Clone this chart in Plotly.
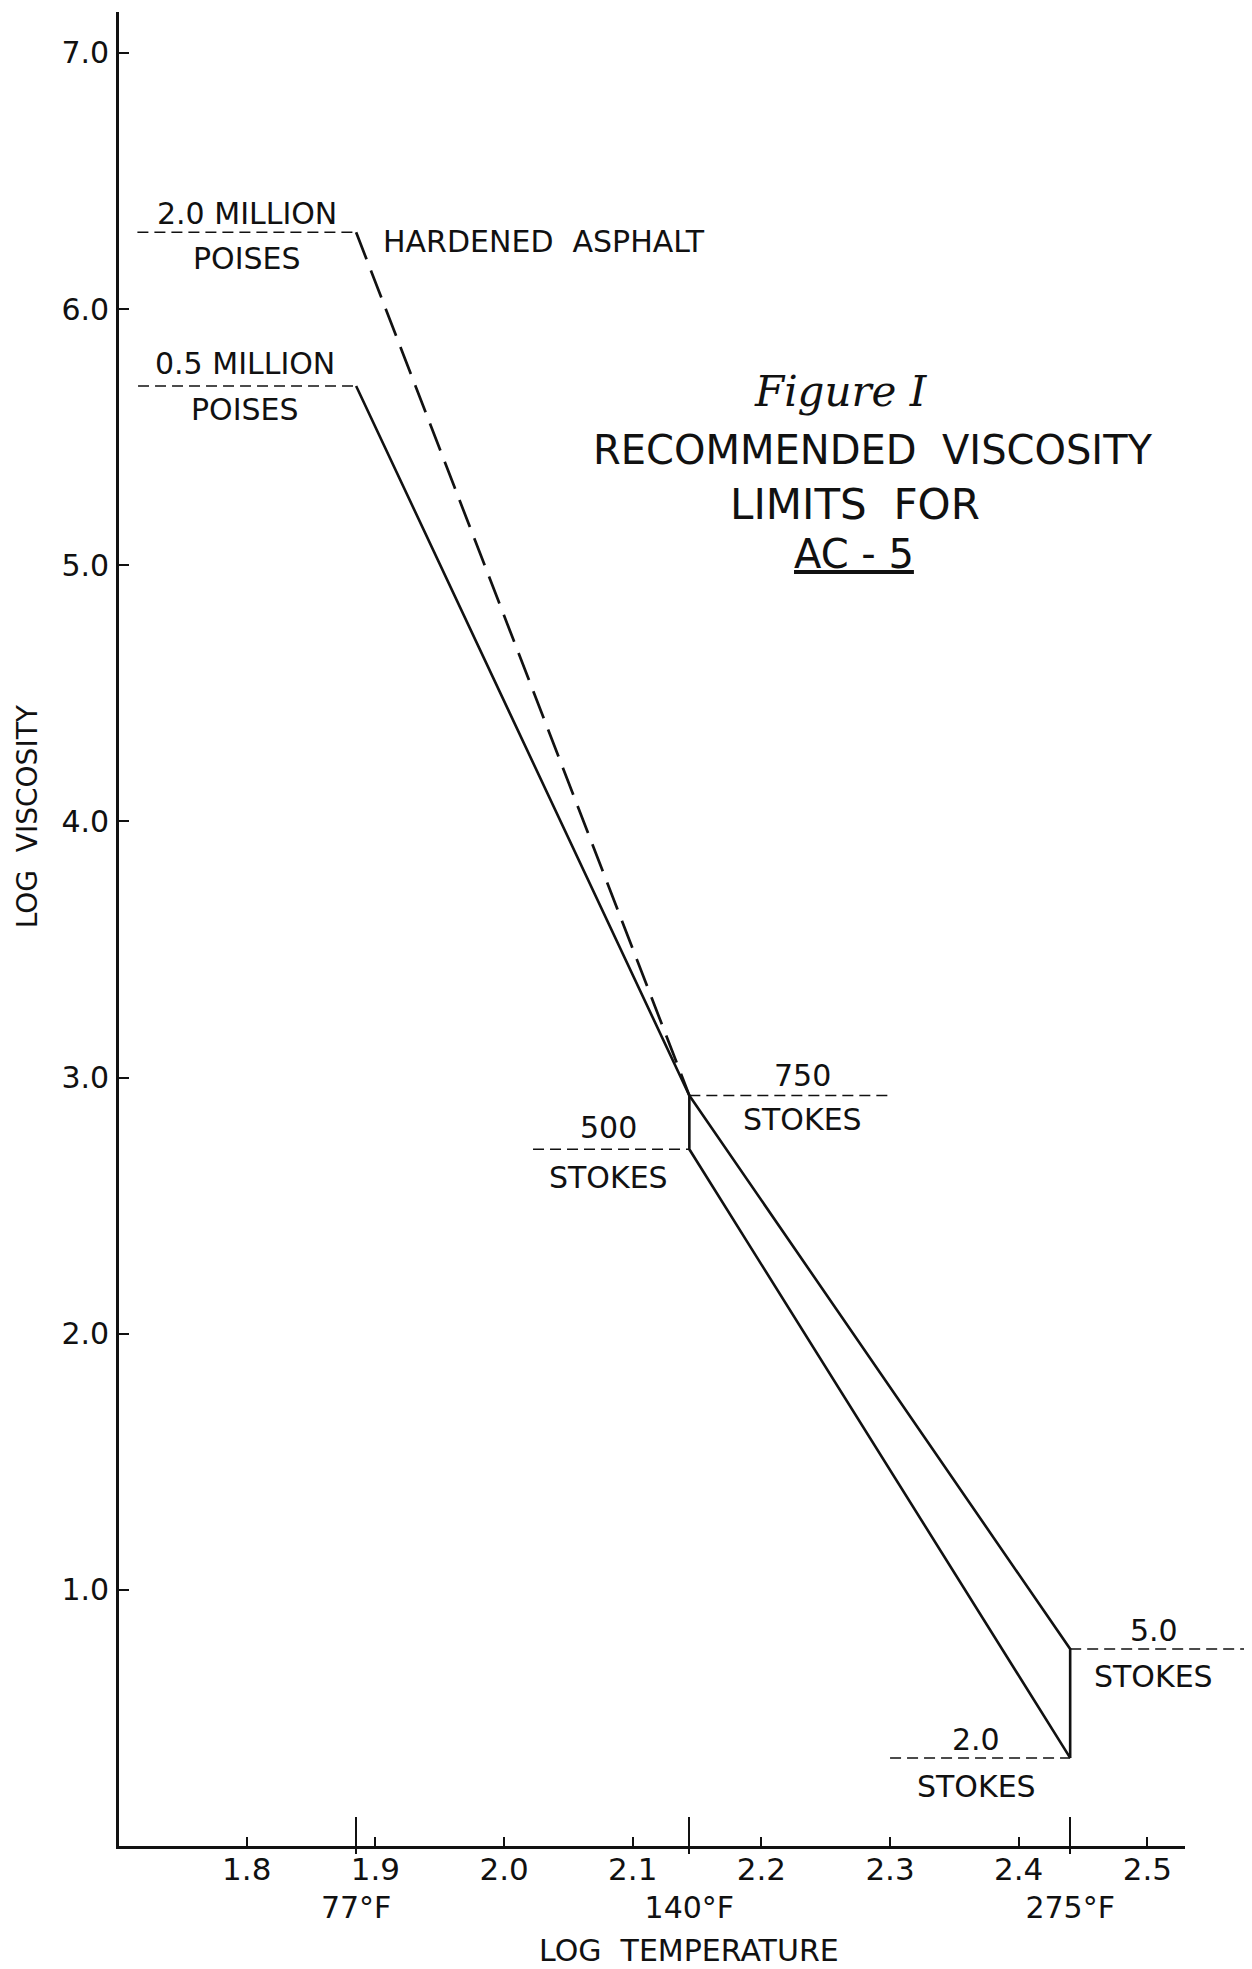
import plotly.graph_objects as go

# ---------------- data ----------------
x_tick_vals = [1.8, 1.9, 2.0, 2.1, 2.2, 2.3, 2.4, 2.5]
x_tick_text = ["1.8", "1.9", "2.0", "2.1", "2.2", "2.3", "2.4", "2.5"]
y_tick_vals = [1, 2, 3, 4, 5, 6, 7]
y_tick_text = ["1.0", "2.0", "3.0", "4.0", "5.0", "6.0", "7.0"]

log_temp_marks = [1.885, 2.144, 2.440]
temp_mark_labels = ["77°F", "140°F", "275°F"]

# recommended limits (log temperature, log viscosity)
lower_x = [1.885, 2.144, 2.144, 2.440]
lower_y = [5.70, 2.93, 2.72, 0.344]
upper_x = [2.144, 2.440, 2.440]
upper_y = [2.93, 0.769, 0.344]
hardened_x = [1.885, 2.144]
hardened_y = [6.30, 2.93]

# specification levels (horizontal dashed reference lines)
ref_levels = [6.30, 5.70, 2.93, 2.72, 0.769, 0.344]
ref_x_start = [1.715, 1.7155, 2.144, 2.0225, 2.440, 2.300]
ref_x_end = [1.885, 1.885, 2.302, 2.144, 2.577, 2.440]
ref_text_above = ["2.0 MILLION", "0.5 MILLION", "750", "500", "5.0", "2.0"]
ref_text_below = ["POISES", "POISES", "STOKES", "STOKES", "STOKES", "STOKES"]

# ---------------- styling / layout positions ----------------
INK = "#111111"
FONT = "DejaVu Sans"
X0, X1, XMAX = 1.7007, 2.529, 2.579
DOM = (X1 - X0) / (XMAX - X0)

ref_label_x = [1.800, 1.799, 2.232, 2.081, 2.505, 2.367]
shift_above = [19, 22, 20, 22, 19, 18]
shift_below = [-26, -24, -24, -28, -27, -29]

fig = go.Figure()

# reference dashed lines
for ys, xs, xe in zip(ref_levels, ref_x_start, ref_x_end):
    fig.add_trace(go.Scatter(x=[xs, xe], y=[ys, ys], mode="lines",
                             line=dict(color=INK, width=1.5, dash="11px,6px"),
                             hoverinfo="skip", showlegend=False))

fig.add_trace(go.Scatter(x=hardened_x, y=hardened_y, mode="lines",
                         line=dict(color=INK, width=2.7, dash="29px,12px"),
                         name="Hardened asphalt", showlegend=False))
fig.add_trace(go.Scatter(x=lower_x, y=lower_y, mode="lines",
                         line=dict(color=INK, width=2.6),
                         name="Lower limit", showlegend=False))
fig.add_trace(go.Scatter(x=upper_x, y=upper_y, mode="lines",
                         line=dict(color=INK, width=2.6),
                         name="Upper limit", showlegend=False))

# dummy traces so the visible axes exist
for ax in ["x2", "x3", "x4"]:
    fig.add_trace(go.Scatter(x=[None], y=[None], xaxis=ax, yaxis="y",
                             showlegend=False, hoverinfo="skip"))

anns = []
for t, xv, yv, s in zip(ref_text_above, ref_label_x, ref_levels, shift_above):
    anns.append(dict(text=t, x=xv, y=yv, xref="x", yref="y", yshift=s,
                     xanchor="center", yanchor="middle",
                     showarrow=False, font=dict(family=FONT, size=30, color=INK)))
for t, xv, yv, s in zip(ref_text_below, ref_label_x, ref_levels, shift_below):
    anns.append(dict(text=t, x=xv, y=yv, xref="x", yref="y", yshift=s,
                     xanchor="center", yanchor="middle",
                     showarrow=False, font=dict(family=FONT, size=30, color=INK)))

anns.append(dict(text="HARDENED  ASPHALT", x=1.904, y=6.30, xref="x", yref="y",
                 xanchor="left", yanchor="middle", yshift=-9, showarrow=False,
                 font=dict(family=FONT, size=30, color=INK)))

title_font = dict(family=FONT, size=40, color=INK)
anns.append(dict(text="<i>Figure I</i>", x=2.262, y=5.68, xref="x", yref="y",
                 xanchor="center", yanchor="middle", showarrow=False,
                 font=dict(family="DejaVu Serif", size=42, color=INK)))
anns.append(dict(text="RECOMMENDED  VISCOSITY", x=2.287, y=5.45, xref="x", yref="y",
                 xanchor="center", yanchor="middle", showarrow=False, font=title_font))
anns.append(dict(text="LIMITS  FOR", x=2.273, y=5.236, xref="x", yref="y",
                 xanchor="center", yanchor="middle", showarrow=False,
                 font=dict(family=FONT, size=42, color=INK)))
anns.append(dict(text="<u>AC - 5</u>", x=2.272, y=5.045, xref="x", yref="y",
                 xanchor="center", yanchor="middle", showarrow=False, font=title_font))

anns.append(dict(text="LOG  TEMPERATURE", x=2.144, y=0, xref="x", yref="paper",
                 xanchor="center", yanchor="middle", yshift=-104, showarrow=False,
                 font=dict(family=FONT, size=30, color=INK)))
anns.append(dict(text="LOG  VISCOSITY", x=0, y=4.02, xref="paper", yref="y",
                 xanchor="center", yanchor="middle", xshift=-92, textangle=-90,
                 showarrow=False, font=dict(family=FONT, size=28, color=INK)))

# the page body has an 8px default margin, so the figure is 8px smaller
fig.update_layout(
    width=1244, height=1961,
    margin=dict(l=111, r=3, t=4, b=123),
    plot_bgcolor="rgba(0,0,0,0)", paper_bgcolor="white",
    showlegend=False,
    annotations=anns,
    xaxis=dict(domain=[0, 1], range=[X0, XMAX], visible=False, fixedrange=True),
    xaxis2=dict(domain=[0, DOM], range=[X0, X1], anchor="y",
                showline=True, linewidth=2.6, linecolor=INK, mirror=False,
                ticks="inside", ticklen=9, tickwidth=1.8, tickcolor=INK,
                tickvals=x_tick_vals, ticktext=x_tick_text,
                tickfont=dict(family=FONT, size=31, color=INK),
                ticklabelstandoff=-6, showgrid=False, zeroline=False),
    xaxis3=dict(domain=[0, DOM], range=[X0, X1], anchor="y", overlaying="x2",
                showline=False, ticks="inside", ticklen=29, tickwidth=2.4,
                tickcolor=INK, tickvals=log_temp_marks, ticktext=temp_mark_labels,
                tickfont=dict(family=FONT, size=30, color=INK),
                ticklabelstandoff=41, showgrid=False, zeroline=False),
    xaxis4=dict(domain=[0, DOM], range=[X0, X1], anchor="y", overlaying="x2",
                showline=False, ticks="outside", ticklen=7, tickwidth=2.4,
                tickcolor=INK, tickvals=log_temp_marks, showticklabels=False,
                showgrid=False, zeroline=False),
    yaxis=dict(domain=[0, 1], range=[0, 7.16], anchor="x",
               showline=True, linewidth=2.6, linecolor=INK,
               ticks="inside", ticklen=10, tickwidth=1.8, tickcolor=INK,
               tickvals=y_tick_vals, ticktext=y_tick_text,
               tickfont=dict(family=FONT, size=30, color=INK),
               ticklabelstandoff=1, showgrid=False, zeroline=False),
)

fig.write_html("out.html")
